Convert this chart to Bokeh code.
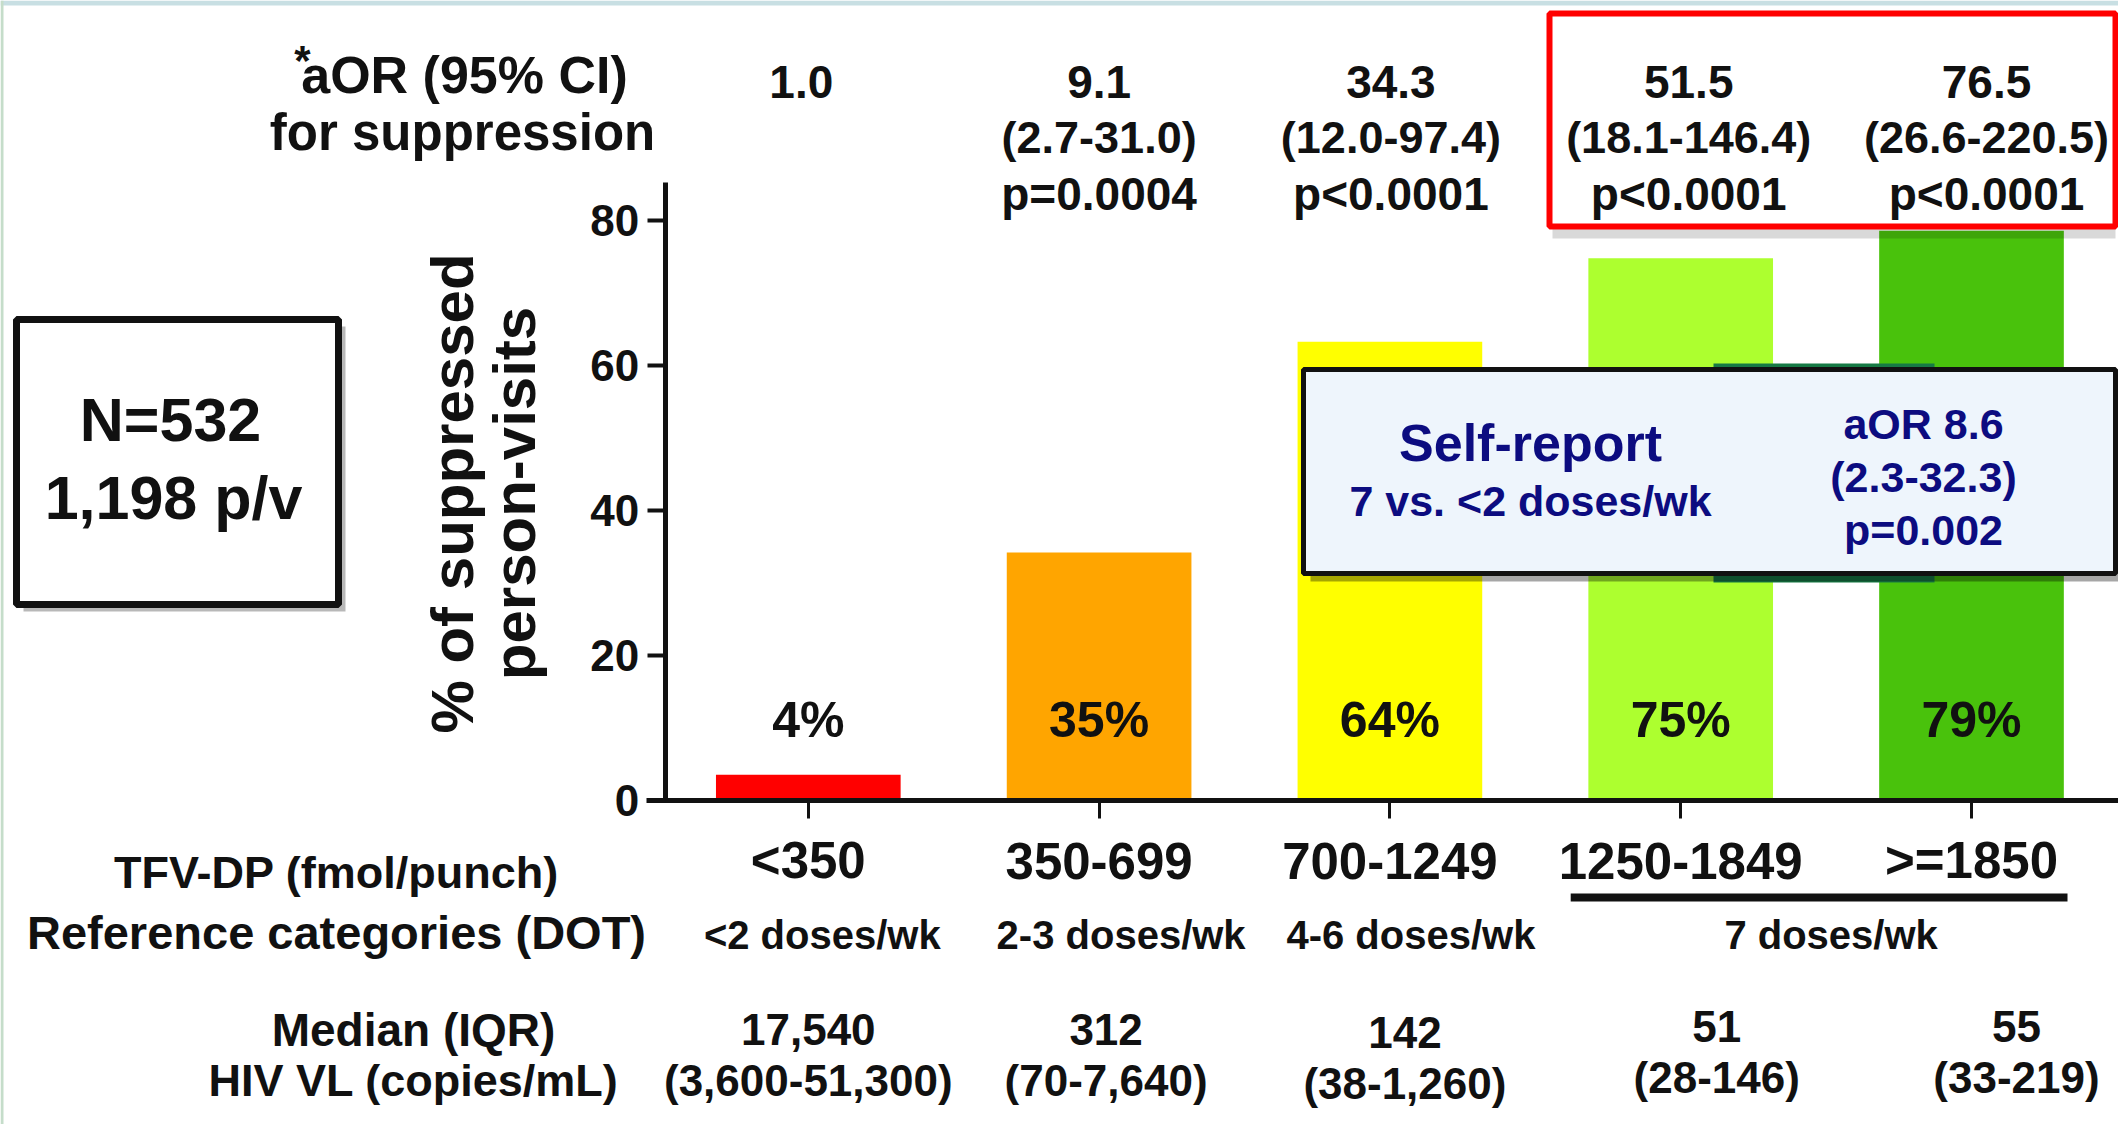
import math
from bokeh.plotting import figure
from bokeh.models import LinearAxis, FixedTicker, Range1d
from bokeh.core.properties import value
from bokeh.embed import file_html
from bokeh.resources import INLINE

# ---------------- data ----------------
tfv_categories = ["<350", "350-699", "700-1249", "1250-1849", ">=1850"]
dot_categories = ["<2 doses/wk", "2-3 doses/wk", "4-6 doses/wk", "7 doses/wk"]
pct_suppressed = [3.5, 34.2, 63.3, 74.8, 78.6]
pct_labels = ["4%", "35%", "64%", "75%", "79%"]
bar_colors = ["#ff0000", "#ffa500", "#ffff00", "#adff2f", "#49c20c"]
aor_values = ["1.0", "9.1", "34.3", "51.5", "76.5"]
aor_ci = ["", "(2.7-31.0)", "(12.0-97.4)", "(18.1-146.4)", "(26.6-220.5)"]
aor_p = ["", "p=0.0004", "p<0.0001", "p<0.0001", "p<0.0001"]
vl_median = ["17,540", "312", "142", "51", "55"]
vl_iqr = ["(3,600-51,300)", "(70-7,640)", "(38-1,260)", "(28-146)", "(33-219)"]
y_ticks = [0, 20, 40, 60, 80]
self_report = ["aOR 8.6", "(2.3-32.3)", "p=0.002"]

# ---------------- layout helpers (page px -> data) ----------------
PX_PER_CAT = 290.8
X0_PX = 807.8
Y0_PX = 799.7
PX_PER_UNIT = 7.2437
W, H = 2118, 1124

def X(fx):
    return (fx - X0_PX) / PX_PER_CAT

def Y(fy):
    return (Y0_PX - fy) / PX_PER_UNIT

FONT_NAME = "Liberation Sans"
FONT = value(FONT_NAME)
cats = list(range(len(tfv_categories)))

p = figure(width=W, height=H,
           x_range=Range1d(X(0), X(W)), y_range=Range1d(Y(H), Y(0)),
           output_backend="svg", toolbar_location=None,
           x_axis_location=None, y_axis_location=None,
           min_border=0, outline_line_color=None,
           background_fill_color="white", border_fill_color="white")
p.grid.visible = False


def txt(xs, ys, texts, size, align="center", color="#111111", angle=0.0,
        baseline="middle", style="bold"):
    p.text(x=xs, y=ys, text=texts, text_font=FONT, text_font_size=size,
           text_font_style=style, text_align=align, text_baseline=baseline,
           text_color=color, angle=angle)


def box(l, r, t, b, fill, line, lw, shadow=(7, 7), shadow_alpha=0.28):
    if shadow:
        dx, dy = shadow
        p.quad(left=[X(l + dx)], right=[X(r + dx)], top=[Y(t + dy)], bottom=[Y(b + dy)],
               fill_color="#000000", fill_alpha=shadow_alpha, line_color=None)
    p.quad(left=[X(l)], right=[X(r)], top=[Y(t)], bottom=[Y(b)],
           fill_color=fill, line_color=line, line_width=lw)

# slide frame strips
p.quad(left=[X(0)], right=[X(W)], top=[Y(0)], bottom=[Y(5)],
       fill_color="#c8dfe3", line_color=None)
p.quad(left=[X(0)], right=[X(3)], top=[Y(0)], bottom=[Y(H)],
       fill_color="#c5ddca", line_color=None)

# ---------------- bars ----------------
p.vbar(x=cats, top=pct_suppressed, bottom=0, width=0.635,
       fill_color=bar_colors, line_color=None)

# hidden dark green rectangle behind the self-report box
p.quad(left=[X(1713)], right=[X(1934)], top=[Y(363)], bottom=[Y(582)],
       fill_color="#167a45", line_color=None)

# ---------------- axes ----------------
yax = LinearAxis(fixed_location=X(664.6), bounds=(0, Y(182.4)),
                 ticker=FixedTicker(ticks=y_ticks))
yax.axis_line_width = 5
yax.axis_line_color = "#111111"
yax.major_tick_line_width = 4
yax.major_tick_line_color = "#111111"
yax.major_tick_out = 18
yax.major_tick_in = 0
yax.minor_tick_line_color = None
yax.major_label_text_font = FONT_NAME
yax.major_label_text_font_style = "bold"
yax.major_label_text_font_size = "44px"
yax.major_label_text_color = "#111111"
yax.major_label_standoff = 8
p.add_layout(yax, "left")

xax = LinearAxis(fixed_location=0, bounds=(X(645.7), X(2200)),
                 ticker=FixedTicker(ticks=cats))
xax.axis_line_width = 5
xax.axis_line_color = "#111111"
xax.major_tick_line_width = 3
xax.major_tick_line_color = "#111111"
xax.major_tick_out = 18
xax.major_tick_in = 0
xax.minor_tick_line_color = None
xax.major_label_text_color = None
p.add_layout(xax, "below")

# y axis title (two rotated lines)
txt([X(452)], [Y(493)], ["% of suppressed"], "60px", angle=math.pi / 2)
txt([X(514)], [Y(493)], ["person-visits"], "60px", angle=math.pi / 2)

# percentage labels
txt(cats, [Y(719)] * 5, pct_labels, "50px")

# ---------------- N box ----------------
box(16, 338, 319, 604, "white", "#111111", 7)
txt([X(170)], [Y(419)], ["N=532"], "61px")
txt([X(173)], [Y(497)], ["1,198 p/v"], "61px")

# ---------------- self-report box ----------------
box(1303, 2115, 369, 573, "#eef5fc", "#111111", 5, shadow=(7, 8), shadow_alpha=0.35)
NAVY = "#0c0c80"
txt([X(1530)], [Y(442)], ["Self-report"], "52px", color=NAVY)
txt([X(1530)], [Y(500)], ["7 vs. <2 doses/wk"], "43px", color=NAVY)
txt([X(1923)] * 3, [Y(423), Y(476), Y(529)], self_report, "43px", color=NAVY)

# ---------------- aOR rows (top) ----------------
p.quad(left=[X(1552)], right=[X(2115)], top=[Y(228)], bottom=[Y(238)],
       fill_color="#000000", fill_alpha=0.15, line_color=None)
box(1549, 2115, 13, 226, None, "#ff0000", 6, shadow=None)
top_dx = [-7, 0, 1, 8, 15]
top_x = [c + d / PX_PER_CAT for c, d in zip(cats, top_dx)]
txt(top_x, [Y(81)] * 5, aor_values, "46px")
txt(top_x, [Y(137)] * 5, aor_ci, "45px")
txt(top_x, [Y(193)] * 5, aor_p, "46px")
txt([X(464)], [Y(74)], ["aOR (95% CI)"], "52px")
txt([X(462)], [Y(132)], ["for suppression"], "51px")
txt([X(302)], [Y(60)], ["*"], "42px")

# ---------------- bottom rows ----------------
txt(cats, [Y(860)] * 5, tfv_categories, "51px")
txt([X(336)], [Y(872)], ["TFV-DP (fmol/punch)"], "45px")
txt([X(336)], [Y(932)], ["Reference categories (DOT)"], "47px")
dot_dx = [14, 22, 21]
dot_x = [c + d / PX_PER_CAT for c, d in zip(cats[:3], dot_dx)] + [(cats[3] + cats[4]) / 2 + 5 / PX_PER_CAT]
txt(dot_x, [Y(934)] * 4, dot_categories, "40px")
p.segment(x0=[3 - 110 / PX_PER_CAT], x1=[4 + 96 / PX_PER_CAT], y0=[Y(897)], y1=[Y(897)],
          line_width=8, line_color="#111111", line_cap="butt")

txt([X(413)], [Y(1029)], ["Median (IQR)"], "46px")
txt([X(413)], [Y(1080)], ["HIV VL (copies/mL)"], "45px")
vl_dx = [0, 7, 15, 36, 45]
vl_dy = [0, 0, 3, -3, -3]
vl_x = [c + d / PX_PER_CAT for c, d in zip(cats, vl_dx)]
txt(vl_x, [Y(1029 + d) for d in vl_dy], vl_median, "44px")
txt(vl_x, [Y(1080 + d) for d in vl_dy], vl_iqr, "44px")

open("out.html", "w").write(file_html(p, INLINE))
